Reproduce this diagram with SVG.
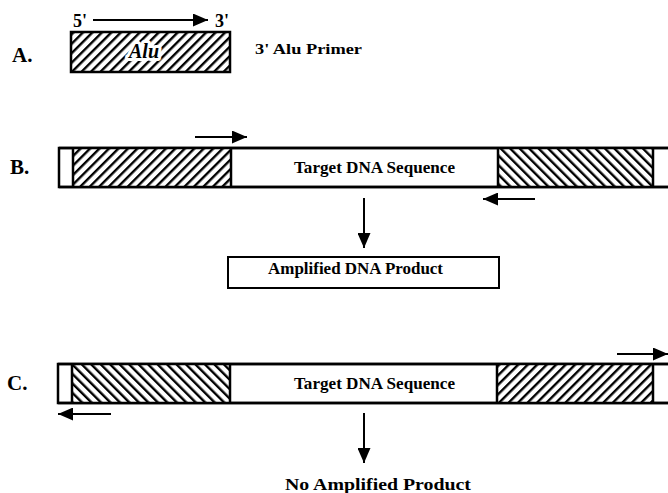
<svg xmlns="http://www.w3.org/2000/svg" width="668" height="493" viewBox="0 0 668 493">
<style>
text{font-family:"Liberation Serif","Times New Roman",serif;font-weight:bold;fill:#000}
.bar{fill:#fff;stroke:#000;stroke-width:2.5}
.div{stroke:#000;stroke-width:2.5}
.ln{stroke:#000;stroke-width:2;fill:none}
.lbl{font-size:21px}
.t{font-size:17px}
</style>
<defs>
<pattern id="fwd" patternUnits="userSpaceOnUse" width="6.7" height="6.7" patternTransform="rotate(45)">
<rect width="6.7" height="6.7" fill="#fff"/>
<line x1="1.2" y1="-1" x2="1.2" y2="8" stroke="#000" stroke-width="2.4"/>
</pattern>
<pattern id="bwd" patternUnits="userSpaceOnUse" width="6.7" height="6.7" patternTransform="rotate(-45)">
<rect width="6.7" height="6.7" fill="#fff"/>
<line x1="1.2" y1="-1" x2="1.2" y2="8" stroke="#000" stroke-width="2.4"/>
</pattern>
<marker id="ah" markerUnits="userSpaceOnUse" markerWidth="16" markerHeight="13" refX="15" refY="6.5" orient="auto">
<path d="M0,0 L15,6.5 L0,13 Z" fill="#000"/>
</marker>
</defs>

<g id="labelA"><text class="lbl" x="12" y="62">A.</text></g>
<g id="labelB"><text class="lbl" x="10" y="174">B.</text></g>
<g id="labelC"><text class="lbl" x="7" y="390">C.</text></g>

<g id="primerA">
<rect x="71" y="32" width="159" height="40" fill="url(#fwd)" stroke="#000" stroke-width="2.5"/>
<text x="129" y="58" font-size="20" font-style="italic" stroke="#fff" stroke-width="6" stroke-linejoin="round" paint-order="stroke">Alu</text>
<text x="73" y="27" font-size="18">5'</text>
<text x="215" y="27" font-size="18">3'</text>
</g>
<g id="primerLabel"><text x="255" y="54" font-size="14.5" textLength="107" lengthAdjust="spacingAndGlyphs">3' Alu Primer</text></g>

<g id="barB">
<rect class="bar" x="59" y="148" width="640" height="39"/>
<rect x="73" y="148" width="158" height="39" fill="url(#fwd)"/>
<rect x="498" y="148" width="155" height="39" fill="url(#bwd)"/>
<line class="div" x1="73" y1="148" x2="73" y2="187"/>
<line class="div" x1="231" y1="148" x2="231" y2="187"/>
<line class="div" x1="498" y1="148" x2="498" y2="187"/>
<line class="div" x1="653" y1="148" x2="653" y2="187"/>
<line class="div" x1="59" y1="148" x2="668" y2="148"/>
<line class="div" x1="59" y1="187" x2="668" y2="187"/>
<text class="t" x="294" y="173" textLength="161" lengthAdjust="spacingAndGlyphs">Target DNA Sequence</text>
</g>

<g id="productB">
<rect x="228" y="257" width="271" height="31" fill="#fff" stroke="#000" stroke-width="2"/>
<text x="268" y="274" font-size="17" textLength="175" lengthAdjust="spacingAndGlyphs">Amplified DNA Product</text>
</g>

<g id="barC">
<rect class="bar" x="58" y="364" width="640" height="39"/>
<rect x="72" y="364" width="158" height="39" fill="url(#bwd)"/>
<rect x="497" y="364" width="156" height="39" fill="url(#fwd)"/>
<line class="div" x1="72" y1="364" x2="72" y2="403"/>
<line class="div" x1="230" y1="364" x2="230" y2="403"/>
<line class="div" x1="497" y1="364" x2="497" y2="403"/>
<line class="div" x1="653" y1="364" x2="653" y2="403"/>
<line class="div" x1="58" y1="364" x2="668" y2="364"/>
<line class="div" x1="58" y1="403" x2="668" y2="403"/>
<text class="t" x="294" y="389" textLength="161" lengthAdjust="spacingAndGlyphs">Target DNA Sequence</text>
</g>

<g id="resultC"><text x="285" y="490" font-size="17.5" textLength="186" lengthAdjust="spacingAndGlyphs">No Amplified Product</text></g>

<g id="connectors">
<line class="ln" x1="93" y1="20" x2="208" y2="20" marker-end="url(#ah)"/>
<line class="ln" x1="195" y1="137" x2="247" y2="137" marker-end="url(#ah)"/>
<line class="ln" x1="535" y1="199" x2="483" y2="199" marker-end="url(#ah)"/>
<line class="ln" x1="364" y1="198" x2="364" y2="248" marker-end="url(#ah)"/>
<line class="ln" x1="111" y1="414" x2="58" y2="414" marker-end="url(#ah)"/>
<line class="ln" x1="617" y1="354" x2="668" y2="354" marker-end="url(#ah)"/>
<line class="ln" x1="364" y1="413" x2="364" y2="463" marker-end="url(#ah)"/>
</g>
</svg>
